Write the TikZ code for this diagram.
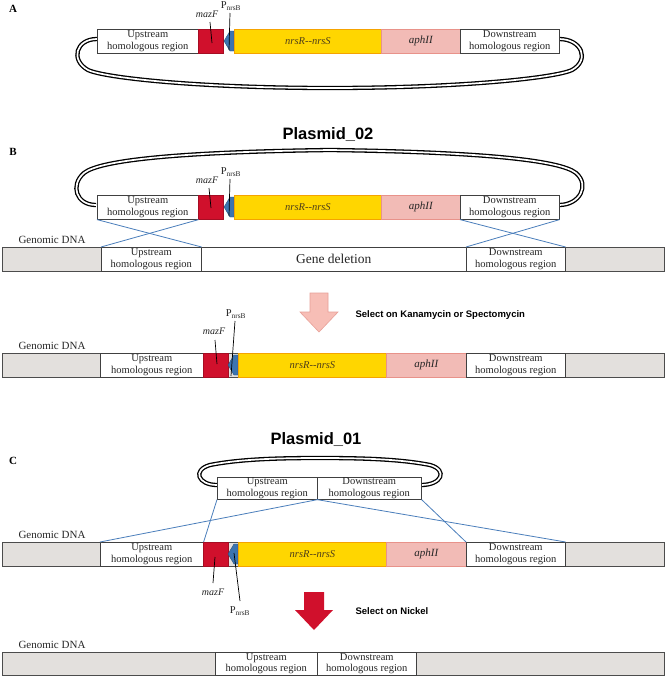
\documentclass[tikz,border=0pt]{standalone}
\usepackage{fontspec}
\setmainfont{Liberation Serif}
\newfontfamily\arialfont{Liberation Sans}
\definecolor{mazred}{HTML}{D0102C}
\definecolor{nrsyellow}{HTML}{FFD600}
\definecolor{nrsorange}{HTML}{F5A300}
\definecolor{nrstext}{HTML}{4D3D1A}
\definecolor{aphpink}{HTML}{F2BBB6}
\definecolor{aphborder}{HTML}{E8928A}
\definecolor{promblue}{HTML}{3C74B0}
\definecolor{dnagray}{HTML}{E3E0DD}
\definecolor{crossblue}{HTML}{4A7EBB}
\definecolor{arrowpink}{HTML}{F7BEB6}
\definecolor{arrowpinkb}{HTML}{E8A098}
\newcommand{\promArrow}[3]{\filldraw[prom] (#1,#2) -- ++(-4,0) -- ++(-6,#3/2) -- ++(6,#3/2) -- ++(4,0) -- cycle;}
\begin{document}
\begin{tikzpicture}[x=1pt,y=-1pt,
  box/.style={draw=black!75, line width=0.6pt, inner sep=0pt, anchor=north west,
    minimum height=24pt, align=center, text=black!85, font=\fontsize{10.5}{11.5}\selectfont},
  hom/.style={box, fill=white},
  mz/.style={box, fill=mazred, draw=mazred!80!black},
  nrs/.style={box, fill=nrsyellow, draw=nrsorange, line width=0.9pt, text=nrstext,
    font=\itshape\fontsize{10.5}{12}\selectfont},
  aph/.style={box, fill=aphpink, draw=aphborder, font=\itshape\fontsize{11}{12}\selectfont},
  bar/.style={draw=black!70, line width=0.7pt, fill=dnagray, anchor=north west,
    minimum width=662pt, minimum height=24pt, inner sep=0pt},
  dna/.style={font=\fontsize{11}{12}\selectfont, text=black!85},
  loopline/.style={draw=black, line width=1.3pt, double=white, double distance=1.7pt},
  cross/.style={draw=crossblue, line width=0.8pt},
  lead/.style={draw=black, line width=0.7pt},
  prom/.style={fill=promblue, draw=promblue!70!black, line width=0.4pt},
  lbl/.style={font=\bfseries\fontsize{11}{12}\selectfont},
  plas/.style={font=\arialfont\bfseries\fontsize{16.5}{18}\selectfont},
  sel/.style={font=\arialfont\bfseries\fontsize{9.5}{11}\selectfont, anchor=west},
  mzl/.style={font=\itshape\fontsize{10}{11}\selectfont, text=black!85},
  pl/.style={font=\fontsize{10.5}{11}\selectfont, text=black!85}
]
\useasboundingbox[fill=white] (0,0) rectangle (666,678);

% ---------------- A ----------------
\node[lbl] (labA) at (13,9) {A};
\draw[loopline] (97,39) .. controls (76,39) and (70,60) .. (88,70)
  .. controls (105,78) and (200,88) .. (330,88)
  .. controls (460,88) and (555,78) .. (572,70)
  .. controls (590,60) and (582,39) .. (559,39);
\node[hom, minimum width=101pt] (aU) at (97,29) {Upstream\\homologous region};
\node[mz, minimum width=25pt] (aM) at (198,29) {};
\promArrow{234}{31}{20}
\node[nrs, minimum width=147pt] (aY) at (234,29) {nrsR{-}{-}nrsS};
\node[aph, minimum width=79pt] (aK) at (381,29) {aphII};
\node[hom, minimum width=99pt] (aD) at (460,29) {Downstream\\homologous region};
\node[mzl] (mzA) at (207,14) {mazF};
\node[pl] (pA) at (231,6) {P\textsubscript{nrsB}};
\coordinate (mzA1) at (210,22); \coordinate (mzA2) at (212,43);
\coordinate (pA1) at (230,13); \coordinate (pA2) at (229,50);
\draw[lead] (mzA1) -- (mzA2);
\draw[lead] (pA1) -- (pA2);

% ---------------- B ----------------
\node[plas] (plas2) at (328,135) {Plasmid\_02};
\node[lbl] (labB) at (13,152) {B};
\draw[loopline] (96,205) .. controls (76,205) and (70,185) .. (84,173)
  .. controls (100,160) and (180,152) .. (330,150)
  .. controls (480,152) and (560,160) .. (576,173)
  .. controls (590,185) and (580,205) .. (559,205);
\node[hom, minimum width=101pt] (bpU) at (97,195) {Upstream\\homologous region};
\node[mz, minimum width=25pt] (bpM) at (198,195) {};
\promArrow{234}{197}{20}
\node[nrs, minimum width=147pt] (bpY) at (234,195) {nrsR{-}{-}nrsS};
\node[aph, minimum width=79pt] (bpK) at (381,195) {aphII};
\node[hom, minimum width=99pt] (bpD) at (460,195) {Downstream\\homologous region};
\node[mzl] (mzB) at (207,180) {mazF};
\node[pl] (pB) at (231,172) {P\textsubscript{nrsB}};
\coordinate (mzB1) at (209,188); \coordinate (mzB2) at (211,208);
\coordinate (pB1) at (230,179); \coordinate (pB2) at (229,216);
\draw[lead] (mzB1) -- (mzB2);
\draw[lead] (pB1) -- (pB2);

\node[dna] (gdB) at (52,240) {Genomic DNA};
\node[bar] (bg) at (2,247) {};
\node[hom, minimum width=100pt] (bgU) at (101,247) {Upstream\\homologous region};
\node[hom, minimum width=265pt, font=\fontsize{13.5}{15}\selectfont] (bgG) at (201,247) {Gene deletion};
\node[hom, minimum width=99pt] (bgD) at (466,247) {Downstream\\homologous region};
\draw[cross] (bpU.south west) -- (bgU.north east);
\draw[cross] (bpU.south east) -- (bgU.north west);
\draw[cross] (bpD.south west) -- (bgD.north east);
\draw[cross] (bpD.south east) -- (bgD.north west);

% selection arrow 1
\filldraw[fill=arrowpink, draw=arrowpinkb, line width=0.6pt]
  (310,293) -- (328,293) -- (328,312) -- (338,312) -- (319,332) -- (300,312) -- (310,312) -- cycle;
\node[sel] (sel1) at (352,315) {Select on Kanamycin or Spectomycin};

% ---------------- B2 ----------------
\node[dna] (gdB2) at (52,346) {Genomic DNA};
\node[bar] (b2) at (2,353) {};
\node[hom, minimum width=103pt] (b2U) at (100,353) {Upstream\\homologous region};
\node[mz, minimum width=25pt] (b2M) at (203,353) {};
\promArrow{238}{355}{20}
\node[nrs, minimum width=148pt] (b2Y) at (238,353) {nrsR{-}{-}nrsS};
\node[aph, minimum width=80pt] (b2K) at (386,353) {aphII};
\node[hom, minimum width=99pt] (b2D) at (466,353) {Downstream\\homologous region};
\node[mzl] (mzB2) at (214,331) {mazF};
\node[pl] (pB2) at (236,314) {P\textsubscript{nrsB}};
\coordinate (mzC1) at (215,340); \coordinate (mzC2) at (217,364);
\coordinate (pC1) at (235,321); \coordinate (pC2) at (231,376);
\draw[lead] (mzC1) -- (mzC2);
\draw[lead] (pC1) -- (pC2);

% ---------------- C ----------------
\node[plas] (plas1) at (316,440) {Plasmid\_01};
\node[lbl] (labC) at (13,461) {C};
\draw[loopline] (217,485) .. controls (198,485) and (192,470) .. (210,465)
  .. controls (240,459) and (280,458) .. (320,458)
  .. controls (360,458) and (400,459) .. (430,465)
  .. controls (448,470) and (442,485) .. (421,485);
\node[hom, minimum width=100pt, minimum height=22pt] (pcU) at (217,477) {Upstream\\homologous region};
\node[hom, minimum width=104pt, minimum height=22pt] (pcD) at (317,477) {Downstream\\homologous region};

\node[dna] (gdC) at (52,535) {Genomic DNA};
\node[bar] (c) at (2,542) {};
\node[hom, minimum width=103pt] (cU) at (100,542) {Upstream\\homologous region};
\node[mz, minimum width=25pt] (cM) at (203,542) {};
\promArrow{238}{544}{20}
\node[nrs, minimum width=148pt] (cY) at (238,542) {nrsR{-}{-}nrsS};
\node[aph, minimum width=80pt] (cK) at (386,542) {aphII};
\node[hom, minimum width=99pt] (cD) at (466,542) {Downstream\\homologous region};
\draw[cross] (pcU.south west) -- (cU.north east);
\draw[cross] (pcU.south east) -- (cU.north west);
\draw[cross] (pcD.south west) -- (cD.north east);
\draw[cross] (pcD.south east) -- (cD.north west);
\node[mzl] (mzCl) at (213,592) {mazF};
\node[pl] (pCl) at (240,611) {P\textsubscript{nrsB}};
\coordinate (mzD1) at (215,557); \coordinate (mzD2) at (213,583);
\coordinate (pD1) at (234,553); \coordinate (pD2) at (240,601);
\draw[lead] (mzD1) -- (mzD2);
\draw[lead] (pD1) -- (pD2);

% selection arrow 2
\fill[mazred] (304,592) -- (324,592) -- (324,610) -- (333,610) -- (314,630) -- (295,610) -- (304,610) -- cycle;
\node[sel] (sel2) at (352,611) {Select on Nickel};

% ---------------- final ----------------
\node[dna] (gdF) at (52,645) {Genomic DNA};
\node[bar, minimum height=23pt] (f) at (2,652) {};
\node[hom, minimum width=102pt, minimum height=23pt] (fU) at (215,652) {Upstream\\homologous region};
\node[hom, minimum width=99pt, minimum height=23pt] (fD) at (317,652) {Downstream\\homologous region};
\end{tikzpicture}
\end{document}
